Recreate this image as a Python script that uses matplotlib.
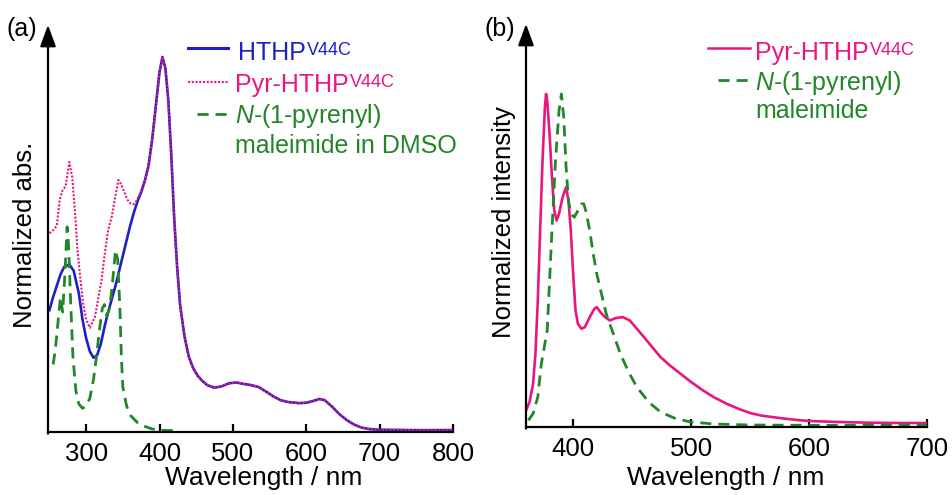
import matplotlib
matplotlib.use("Agg")
import matplotlib.pyplot as plt
from matplotlib.lines import Line2D

plt.rcParams['font.family'] = ['Liberation Sans', 'DejaVu Sans']
plt.rcParams['mathtext.fontset'] = 'custom'
plt.rcParams['mathtext.rm'] = 'Liberation Sans'
plt.rcParams['mathtext.it'] = 'Liberation Sans:italic'

# (a) absorption spectra
wl_hthp = [250, 255, 260, 265, 270, 277, 283, 290, 295, 300, 305, 310, 315, 320,
           325, 330, 335, 340, 345, 350, 355, 360, 365, 370, 375, 380, 385, 390,
           395, 400, 404, 408, 412, 416, 420, 424, 428, 434, 440, 446, 452, 458,
           465, 475, 485, 495, 505, 515, 525, 535, 545, 555, 565, 575, 590, 600,
           610, 618, 625, 635, 645, 655, 665, 675, 685, 700, 750, 800]
abs_hthp = [0.325, 0.36, 0.39, 0.42, 0.44, 0.447, 0.43, 0.37, 0.30, 0.25, 0.215,
            0.198, 0.205, 0.235, 0.28, 0.32, 0.355, 0.39, 0.43, 0.47, 0.51, 0.55,
            0.585, 0.615, 0.64, 0.67, 0.71, 0.78, 0.87, 0.96, 1.0, 0.97, 0.885,
            0.74, 0.57, 0.44, 0.34, 0.255, 0.20, 0.17, 0.15, 0.137, 0.125, 0.118,
            0.122, 0.13, 0.132, 0.128, 0.125, 0.12, 0.108, 0.095, 0.085, 0.08,
            0.077, 0.078, 0.083, 0.088, 0.085, 0.068, 0.048, 0.032, 0.02, 0.012,
            0.008, 0.006, 0.005, 0.005]

wl_pyr = [250, 256, 260, 264, 268, 272, 277, 281, 285, 288, 292, 296, 300, 305,
          312, 316, 321, 325, 330, 335, 340, 344, 348, 352, 356, 360, 364, 368,
          372, 376, 380, 385, 390, 395, 400, 404, 408, 412, 416, 420, 424, 428,
          434, 440, 446, 452, 458, 465, 475, 485, 495, 505, 515, 525, 535, 545,
          555, 565, 575, 590, 600, 610, 618, 625, 635, 645, 655, 665, 675, 685,
          700, 750, 800]
abs_pyr = [0.53, 0.54, 0.55, 0.62, 0.645, 0.655, 0.72, 0.68, 0.58, 0.49, 0.41,
           0.34, 0.30, 0.278, 0.307, 0.35, 0.405, 0.47, 0.539, 0.575, 0.63, 0.672,
           0.66, 0.64, 0.62, 0.61, 0.607, 0.615, 0.63, 0.645, 0.67, 0.71, 0.78,
           0.87, 0.96, 1.0, 0.97, 0.885, 0.74, 0.57, 0.44, 0.34, 0.255, 0.20,
           0.17, 0.15, 0.137, 0.125, 0.118, 0.122, 0.13, 0.132, 0.128, 0.125,
           0.12, 0.108, 0.095, 0.085, 0.08, 0.077, 0.078, 0.083, 0.088, 0.085,
           0.068, 0.048, 0.032, 0.02, 0.012, 0.008, 0.006, 0.005, 0.006]

wl_npm = [255, 258, 262, 265, 268, 271, 274, 276, 279, 282, 286, 290, 295, 300,
          305, 310, 314, 318, 322, 325, 328, 332, 336, 340, 343, 346, 348, 350,
          355, 360, 370, 380, 390, 400, 410, 420]
abs_npm = [0.18, 0.22, 0.30, 0.36, 0.32, 0.42, 0.547, 0.50, 0.34, 0.20, 0.11,
           0.075, 0.063, 0.07, 0.09, 0.14, 0.20, 0.27, 0.33, 0.34, 0.31, 0.33,
           0.40, 0.485, 0.46, 0.33, 0.20, 0.12, 0.07, 0.045, 0.025, 0.015, 0.008,
           0.005, 0.004, 0.004]

# (b) emission spectra
wl_em_pyr = [360, 363, 366, 368, 370, 372, 374, 376, 377, 378, 380, 382, 384,
             386, 388, 391, 394, 396, 398, 400, 402, 404, 407, 410, 414, 418,
             420, 423, 427, 431, 436, 442, 448, 454, 460, 467, 474, 482, 491,
             500, 510, 519, 530, 540, 550, 560, 575, 590, 600, 625, 650, 675, 700]
em_pyr = [0.05, 0.075, 0.13, 0.22, 0.38, 0.59, 0.80, 0.96, 1.0, 0.98, 0.88,
          0.75, 0.65, 0.62, 0.64, 0.69, 0.72, 0.68, 0.59, 0.46, 0.35, 0.31,
          0.295, 0.30, 0.33, 0.355, 0.36, 0.345, 0.33, 0.32, 0.327, 0.33, 0.32,
          0.295, 0.27, 0.24, 0.21, 0.185, 0.16, 0.135, 0.11, 0.09, 0.07, 0.055,
          0.042, 0.034, 0.027, 0.021, 0.018, 0.015, 0.013, 0.012, 0.012]

wl_em_npm = [362, 366, 370, 373, 378, 382, 385, 388, 390, 392, 394, 396, 398,
             401, 404, 407, 409, 411, 414, 417, 420, 424, 428, 434, 440, 447,
             454, 464, 474, 487, 500, 520, 550, 600, 650, 700]
em_npm = [0.02, 0.04, 0.09, 0.19, 0.29, 0.59, 0.80, 0.95, 1.0, 0.93, 0.78, 0.68,
          0.64, 0.63, 0.65, 0.67, 0.67, 0.645, 0.59, 0.52, 0.46, 0.40, 0.34,
          0.28, 0.22, 0.165, 0.12, 0.075, 0.045, 0.025, 0.015, 0.009, 0.006,
          0.005, 0.005, 0.005]

abs_ticks = [300, 400, 500, 600, 700, 800]
em_ticks = [400, 500, 600, 700]

BLUE = '#1f1fc8'
PINK = '#e8177f'
GREEN = '#23862a'

W, H = 952, 495
fig = plt.figure(figsize=(W / 100, H / 100), dpi=100)
renderer = fig.canvas.get_renderer()


def fx(px):
    return px / W


def fy(py):
    return 1 - py / H


def style_axes(ax, ticks):
    for s in ['top', 'right', 'left']:
        ax.spines[s].set_visible(False)
    ax.spines['bottom'].set_linewidth(1.6)
    ax.set_yticks([])
    ax.set_xticks(ticks)
    ax.tick_params(axis='x', direction='in', length=6, width=1.6,
                   labelsize=18.5, pad=7)
    ax.annotate('', xy=(0, 1), xytext=(0, -0.004), xycoords='axes fraction',
                arrowprops=dict(arrowstyle='-|>,head_length=0.65,head_width=0.24',
                                lw=1.6, color='k', mutation_scale=20,
                                shrinkA=0, shrinkB=0),
                annotation_clip=False)


# panel (a)
ax1 = fig.add_axes([fx(48), fy(432), fx(453) - fx(48), fy(25) - fy(432)])
ax1.plot(wl_hthp, abs_hthp, color=BLUE, lw=1.9)
ax1.plot(wl_pyr, abs_pyr, color=PINK, lw=1.5, linestyle=(0, (1, 0.8)))
ax1.plot(wl_npm, abs_npm, color=GREEN, lw=2.0, linestyle=(0, (4, 2.5)))
ax1.set_xlim(248, 800)
ax1.set_ylim(0, (432 - 25) / 375)
style_axes(ax1, abs_ticks)

# panel (b)
ax2 = fig.add_axes([fx(526), fy(427), fx(927) - fx(526), fy(24) - fy(427)])
ax2.plot(wl_em_pyr, em_pyr, color=PINK, lw=1.9)
ax2.plot(wl_em_npm, em_npm, color=GREEN, lw=2.0, linestyle=(0, (4, 2.5)))
ax2.set_xlim(360, 700)
ax2.set_ylim(0, (427 - 24) / 333)
style_axes(ax2, em_ticks)

# axis titles
fig.text(fx(264), fy(485), 'Wavelength / nm', fontsize=19, ha='center',
         va='baseline')
fig.text(fx(726), fy(485), 'Wavelength / nm', fontsize=19, ha='center',
         va='baseline')
fig.text(fx(25), fy(235), 'Normalized abs.', fontsize=18.5, rotation=90,
         ha='center', va='center')
fig.text(fx(504), fy(222), 'Normalized intensity', fontsize=18.5, rotation=90,
         ha='center', va='center')

fig.text(fx(6), fy(29), '(a)', fontsize=18, va='center', ha='left')
fig.text(fx(485), fy(29), '(b)', fontsize=18, va='center', ha='left')


def key(x0, x1, y, color, ls, lw):
    fig.add_artist(Line2D([fx(x0), fx(x1)], [fy(y), fy(y)], color=color,
                          linestyle=ls, lw=lw, transform=fig.transFigure))


def label(x, y, s, color, sup=None):
    t = fig.text(fx(x), fy(y), s, color=color, fontsize=18, va='baseline',
                 ha='left')
    if sup:
        bb = t.get_window_extent(renderer)
        fig.text(fx(bb.x1 + 1), fy(y - 5), sup, color=color, fontsize=13,
                 va='baseline', ha='left')


# legend of panel (a)
key(188, 228, 48, BLUE, '-', 2.2)
label(238, 60, 'HTHP', BLUE, 'V44C')
key(188, 228, 82, PINK, (0, (1, 0.8)), 1.5)
label(235, 92, 'Pyr-HTHP', PINK, 'V44C')
key(197, 228, 114, GREEN, (0, (4, 2.5)), 2.0)
label(235, 123, r'$N$-(1-pyrenyl)', GREEN)
label(235, 153, 'maleimide in DMSO', GREEN)

# legend of panel (b)
key(708, 750, 48, PINK, '-', 1.8)
label(755, 60, 'Pyr-HTHP', PINK, 'V44C')
key(718, 750, 80, GREEN, (0, (4, 2.5)), 2.0)
label(755, 90, r'$N$-(1-pyrenyl)', GREEN)
label(755, 118, 'maleimide', GREEN)

fig.savefig('out.png', dpi=100)
